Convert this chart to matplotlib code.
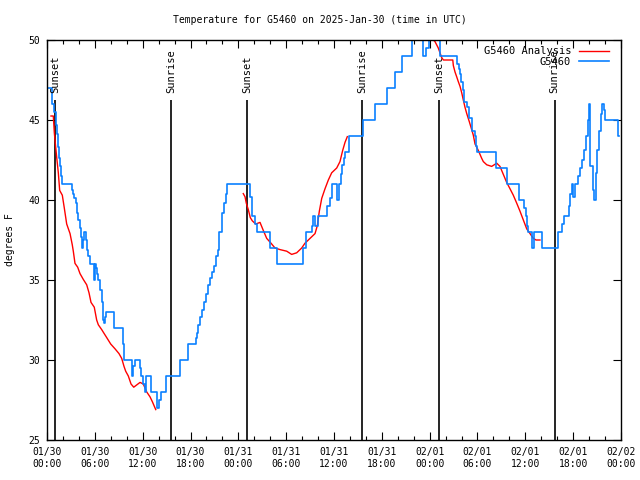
import matplotlib
matplotlib.use('Agg')
import matplotlib.pyplot as plt
import numpy as np

# hours since 2025-01-30 00:00 UTC
obs_hours = [0.0, 0.59, 0.84, 1.09, 1.22, 1.34, 1.51, 1.63, 1.76, 1.84, 3.14, 3.26, 3.42, 3.60,
             3.80, 3.93, 4.10, 4.23, 4.35, 4.43, 4.55, 4.68, 4.83, 5.02, 5.18, 5.39, 5.93, 6.00,
             6.11, 6.27, 6.44, 6.65, 6.86, 6.99, 7.15, 7.28, 7.40, 8.44, 9.50, 9.72, 10.70, 10.85,
             11.04, 11.70, 11.85, 12.10, 12.29, 12.48, 13.05, 13.80, 14.05, 14.24, 14.93, 16.68,
             17.65, 18.65, 18.82, 18.98, 19.23, 19.48, 19.73, 19.91, 20.16, 20.41, 20.66, 20.91,
             21.16, 21.41, 21.58, 21.91, 22.16, 22.41, 22.62, 25.50, 25.68, 26.09, 26.34, 28.01,
             28.85, 32.15, 32.49, 33.20, 33.37, 33.56, 34.03, 35.16, 35.50, 35.75, 36.42, 36.60,
             36.84, 37.00, 37.26, 37.42, 37.92, 39.60, 41.14, 42.69, 43.65, 44.49, 45.75, 47.20,
             47.48, 47.95, 49.05, 49.30, 51.47, 51.64, 51.81, 51.97, 52.15, 52.31, 52.72, 52.93,
             53.31, 53.65, 53.85, 53.98, 56.32, 57.74, 59.24, 59.87, 60.05, 60.21, 60.37, 60.84,
             61.03, 62.05, 64.06, 64.64, 64.81, 65.48, 65.64, 65.82, 66.04, 66.23, 66.64, 66.86,
             67.07, 67.32, 67.57, 67.82, 67.99, 68.15, 68.43, 68.65, 68.83, 68.99, 69.24, 69.49,
             69.66, 69.83, 69.99, 71.59, 71.75]
obs_temp = [47.0, 46.0, 45.5, 44.7, 44.1, 43.3, 42.6, 42.1, 41.5, 41.0, 40.6, 40.4, 40.1, 39.8,
            39.2, 38.75, 38.25, 37.7, 37.3, 37.0, 37.5, 38.0, 37.5, 36.9, 36.5, 36.0, 35.0, 36.0,
            35.75, 35.4, 35.0, 34.4, 33.6, 32.5, 32.3, 32.7, 33.0, 32.0, 31.0, 30.0, 29.0, 29.6,
            30.0, 29.5, 29.0, 28.5, 28.0, 29.0, 28.0, 27.0, 27.5, 28.0, 29.0, 30.0,
            31.0, 31.4, 31.7, 32.2, 32.7, 33.1, 33.6, 34.1, 34.7, 35.1, 35.5, 35.9,
            36.5, 36.9, 38.0, 39.2, 39.8, 40.4, 41.0, 40.2, 39.0, 38.5, 38.0, 37.0,
            36.0, 37.0, 38.0, 38.4, 39.0, 38.4, 39.0, 39.6, 40.1, 41.0, 40.0, 41.0,
            41.6, 42.2, 42.6, 43.0, 44.0, 45.0, 46.0, 47.0, 48.0, 49.0, 50.5, 49.0,
            49.5, 50.5, 50.0, 49.0, 48.5, 48.2, 47.9, 47.4, 46.9, 46.1, 45.8, 45.1,
            44.3, 44.0, 43.4, 43.0, 42.0, 41.0, 40.0, 39.5, 39.0, 38.4, 38.0, 37.0,
            38.0, 37.0, 38.0, 38.5, 39.0, 39.6, 40.4, 41.0, 40.2, 41.0, 41.5, 42.0,
            42.5, 43.1, 44.0, 45.0, 46.0, 42.1, 40.6, 40.0, 41.7, 43.1, 44.3, 45.4,
            46.0, 45.6, 45.0, 44.0, 44.0]

ana_hours = [0.50, 0.79, 0.92, 1.09, 1.25, 1.42, 1.59, 1.92, 2.17, 2.47, 2.89, 3.17, 3.30, 3.51,
             3.85, 4.14, 4.55, 4.98, 5.27, 5.52, 5.93, 6.23, 6.44, 6.86, 7.11, 7.49, 7.99, 8.53,
             9.03, 9.37, 9.66, 9.87, 10.20, 10.54, 10.88, 11.67, 12.08, 12.51, 12.92, 13.21, 13.64,
             np.nan,
             24.62, 24.84, 25.00, 25.25, 25.50, 25.75, 26.18, 26.72, 27.13, 27.56, 28.10, 28.60,
             29.23, 30.07, 30.69, 31.32, 31.95, 32.36, 32.99, 33.62, 33.91, 34.16, 34.46, 34.87,
             35.29, 35.71, 36.34, 36.75, 37.09, 37.38, 37.67,
             np.nan,
             48.46, 48.67, 49.08, 49.51, 49.72, 50.90, 50.97, 51.18, 51.39, 51.59, 51.81, 52.02,
             52.22, 52.43, 52.65, 52.97, 53.27, 53.47, 53.69, 54.10, 54.53, 54.73, 55.16, 55.78,
             56.41, 56.82, 57.24, 57.66, 58.08, 58.49, 58.92, 59.33, 59.75, 60.17, 60.59, 61.00,
             61.34, 61.84]
ana_temp = [45.25, 45.25, 44.2, 43.3, 42.5, 41.7, 40.6, 40.3, 39.5, 38.5, 37.9, 37.2, 36.8, 36.04,
            35.8, 35.4, 35.04, 34.7, 34.2, 33.6, 33.3, 32.5, 32.2, 31.9, 31.7, 31.4, 31.0, 30.7,
            30.4, 30.1, 29.6, 29.3, 29.0, 28.5, 28.3, 28.6, 28.5, 28.0, 27.7, 27.4, 26.9,
            np.nan,
            40.4, 40.2, 39.8, 39.4, 38.9, 38.7, 38.5, 38.6, 38.1, 37.6, 37.3, 37.0,
            36.9, 36.8, 36.6, 36.7, 37.0, 37.3, 37.6, 37.9, 38.4, 39.3, 40.1, 40.7,
            41.25, 41.7, 42.0, 42.4, 43.1, 43.6, 43.96,
            np.nan,
            50.0, 49.9, 49.5, 48.9, 48.75, 48.75, 48.4, 48.0, 47.7, 47.4, 47.1, 46.7,
            46.25, 45.8, 45.4, 44.9, 44.4, 44.06, 43.5, 43.1, 42.6, 42.4, 42.2, 42.1,
            42.3, 42.1, 41.6, 41.1, 40.7, 40.3, 39.8, 39.3, 38.75, 38.2, 37.9, 37.6,
            37.5, 37.5]

sun_hours = [1.05, 15.6, 25.13, 39.55, 49.2, 63.68]
sun_labels = ['Sunset', 'Sunrise', 'Sunset', 'Sunrise', 'Sunset', 'Sunrise']

tick_hours = list(range(0, 73, 6))
tick_labels = ['01/30\n00:00', '01/30\n06:00', '01/30\n12:00', '01/30\n18:00',
               '01/31\n00:00', '01/31\n06:00', '01/31\n12:00', '01/31\n18:00',
               '02/01\n00:00', '02/01\n06:00', '02/01\n12:00', '02/01\n18:00',
               '02/02\n00:00']
y_ticks = [25, 30, 35, 40, 45, 50]

plt.rcParams['font.family'] = 'DejaVu Sans Mono'
plt.rcParams['font.size'] = 7

fig = plt.figure(figsize=(6.4, 4.8), dpi=100)
ax = fig.add_axes([47/640, 40/480, 574/640, 400/480])

for h, lab in zip(sun_hours, sun_labels):
    ax.vlines(h, 25, 46.25, color='black', lw=1.2)
    ax.text(h, 46.7, lab, rotation=90, ha='center', va='bottom', fontsize=7.5)

ax.plot(ana_hours, ana_temp, color='#ff0000', lw=1.0, label='G5460 Analysis')
ax.plot(obs_hours, obs_temp, color='#0a80ff', lw=1.2, drawstyle='steps-post', label='G5460')

ax.set_xlim(0, 72)
ax.set_ylim(25, 50)
ax.set_xticks(tick_hours)
ax.set_xticklabels(tick_labels)
ax.set_xticks(range(0, 73, 2), minor=True)
ax.set_yticks(y_ticks)
ax.tick_params(which='both', direction='in', top=True, right=True, width=0.8)
ax.tick_params(which='major', length=6, pad=5)
ax.tick_params(which='minor', length=3)
ax.tick_params(axis='y', which='minor', left=False, right=False)
for s in ax.spines.values():
    s.set_linewidth(1.0)

ax.set_ylabel('degrees F')
ax.yaxis.set_label_coords(-0.056, 0.5)

ax.legend(loc='upper right', bbox_to_anchor=(0.9895, 1.0), markerfirst=False, frameon=False,
          handlelength=2.9, borderaxespad=0.2, labelspacing=0.05, handletextpad=0.7,
          fontsize=7.5)

fig.text(0.5, 1 - 20/480, 'Temperature for G5460 on 2025-Jan-30 (time in UTC)',
         ha='center', va='center', fontsize=7)

fig.savefig('out.png', dpi=100)
